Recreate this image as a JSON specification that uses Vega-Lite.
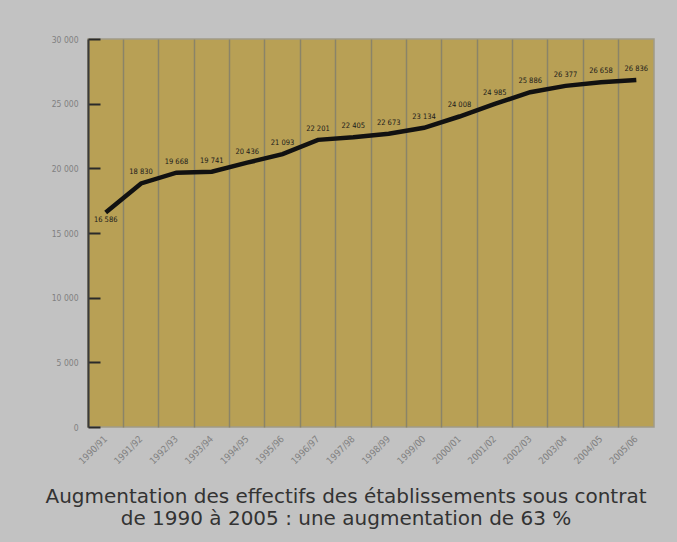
{
  "$schema": "https://vega.github.io/schema/vega-lite/v6.json",
  "autosize": {"type": "none"},
  "padding": {"left": 88, "top": 39, "right": 23, "bottom": 115},
  "width": 566,
  "height": 388,
  "background": "#c2c2c2",
  "title": {
    "text": ["Augmentation des effectifs des établissements sous contrat", "de 1990 à 2005 : une augmentation de 63 %"],
    "orient": "bottom",
    "anchor": "middle",
    "frame": "group",
    "offset": 22,
    "dx": -25,
    "font": "DejaVu Sans",
    "fontSize": 20,
    "fontWeight": "normal",
    "color": "#333333",
    "lineHeight": 22
  },
  "config": {
    "locale": {"number": {"decimal": ",", "thousands": " ", "grouping": [3], "currency": ["", " €"]}},
    "view": {"fill": "#b8a055", "stroke": "#a09a88", "strokeWidth": 1.5}
  },
  "data": {
    "values": [
      {"periode": "1990/91", "effectif": 16586},
      {"periode": "1991/92", "effectif": 18830},
      {"periode": "1992/93", "effectif": 19668},
      {"periode": "1993/94", "effectif": 19741},
      {"periode": "1994/95", "effectif": 20436},
      {"periode": "1995/96", "effectif": 21093},
      {"periode": "1996/97", "effectif": 22201},
      {"periode": "1997/98", "effectif": 22405},
      {"periode": "1998/99", "effectif": 22673},
      {"periode": "1999/00", "effectif": 23134},
      {"periode": "2000/01", "effectif": 24008},
      {"periode": "2001/02", "effectif": 24985},
      {"periode": "2002/03", "effectif": 25886},
      {"periode": "2003/04", "effectif": 26377},
      {"periode": "2004/05", "effectif": 26658},
      {"periode": "2005/06", "effectif": 26836}
    ]
  },
  "encoding": {
    "x": {
      "field": "periode",
      "type": "ordinal",
      "sort": null,
      "scale": {"type": "band", "paddingInner": 0, "paddingOuter": 0},
      "axis": {
        "title": null,
        "grid": true,
        "gridColor": "#8a8468",
        "gridWidth": 1.5,
        "gridOpacity": 1,
        "bandPosition": 0,
        "ticks": false,
        "domain": false,
        "labelAngle": -45,
        "labelAlign": "right",
        "labelBaseline": "middle",
        "labelPadding": 10,
        "labelColor": "#808080",
        "labelFont": "DejaVu Sans Condensed",
        "labelFontSize": 9.5
      }
    },
    "y": {
      "field": "effectif",
      "type": "quantitative",
      "scale": {"domain": [0, 30000], "nice": false},
      "axis": {
        "title": null,
        "grid": false,
        "values": [0, 5000, 10000, 15000, 20000, 25000, 30000],
        "format": ",d",
        "tickSize": -12,
        "tickColor": "#2a2a2a",
        "tickWidth": 2,
        "labelPadding": 22,
        "domainColor": "#3a3a3a",
        "domainWidth": 2,
        "labelColor": "#808080",
        "labelFont": "DejaVu Sans Condensed",
        "labelFontSize": 8.5
      }
    }
  },
  "layer": [
    {"mark": {"type": "line", "color": "#111111", "strokeWidth": 4.5}},
    {
      "transform": [{"filter": "datum.periode != '1990/91'"}],
      "mark": {"type": "text", "dy": -11, "fontSize": 7.5, "font": "DejaVu Sans Condensed", "color": "#1a1a1a"},
      "encoding": {"text": {"field": "effectif", "type": "quantitative", "format": ",d"}}
    },
    {
      "transform": [{"filter": "datum.periode == '1990/91'"}],
      "mark": {"type": "text", "dy": 8, "fontSize": 7.5, "font": "DejaVu Sans Condensed", "color": "#1a1a1a"},
      "encoding": {"text": {"field": "effectif", "type": "quantitative", "format": ",d"}}
    }
  ]
}
